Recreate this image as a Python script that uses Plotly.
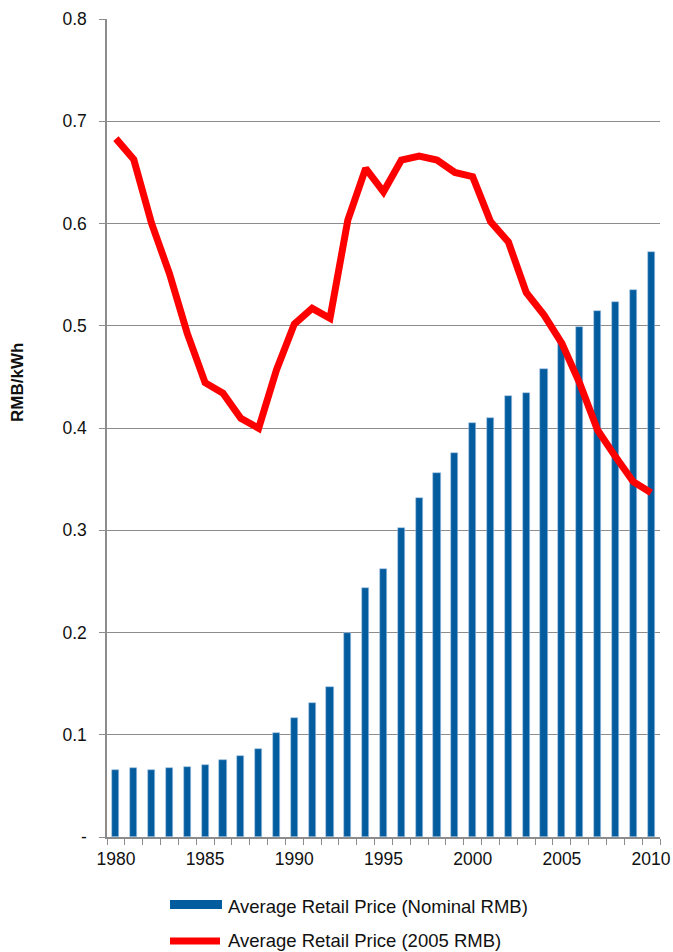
import plotly.graph_objects as go

years = list(range(1980, 2011))
nominal_rmb = [0.0655, 0.067, 0.0658, 0.067, 0.0688, 0.0707, 0.0753, 0.0789, 0.0858, 0.102,
               0.1164, 0.131, 0.1467, 0.1995, 0.2438, 0.262, 0.302, 0.3315, 0.356, 0.376,
               0.405, 0.41, 0.431, 0.4345, 0.458, 0.484, 0.499, 0.514, 0.5235, 0.5346, 0.5718]
real_2005_rmb = [0.683, 0.6626, 0.600, 0.551, 0.4926, 0.4443, 0.434, 0.4095, 0.3997, 0.4567,
                 0.5017, 0.517, 0.5073, 0.6034, 0.654, 0.631, 0.662, 0.666, 0.662, 0.650,
                 0.6458, 0.6018, 0.582, 0.5325, 0.5105, 0.4828, 0.4437, 0.398, 0.372, 0.3475, 0.3367]
y_tickvals = [0, 0.1, 0.2, 0.3, 0.4, 0.5, 0.6, 0.7, 0.8]
y_ticktext = ["-", "0.1", "0.2", "0.3", "0.4", "0.5", "0.6", "0.7", "0.8"]
x_tickvals = [1980, 1985, 1990, 1995, 2000, 2005, 2010]
series_names = ["Average Retail Price (Nominal RMB)", "Average Retail Price (2005 RMB)"]

BLUE = "#035C9D"
RED = "#FF0000"
GRID = "#8c8c8c"
FONT = "Liberation Sans, Arial, sans-serif"

fig = go.Figure()
fig.add_trace(go.Bar(x=years, y=nominal_rmb, width=0.4, name=series_names[0],
                     marker=dict(color=BLUE, line=dict(color="#a9c8e6", width=0.6)),
                     showlegend=False))
fig.add_trace(go.Scatter(x=years, y=real_2005_rmb, mode="lines", name=series_names[1],
                         line=dict(color=RED, width=7), showlegend=False))

W, H = 673, 952
L, R, T, B = 107, 13, 19, 115
pw, ph = W - L - R, H - T - B

def px(xp):
    return (xp - L) / pw

def py(yp):
    return (H - B - yp) / ph

# legend drawn manually
fig.add_shape(type="rect", xref="paper", yref="paper",
              x0=px(170), x1=px(222), y0=py(909), y1=py(900),
              fillcolor=BLUE, line=dict(width=0))
fig.add_shape(type="line", xref="paper", yref="paper",
              x0=px(170), x1=px(220), y0=py(941), y1=py(941),
              line=dict(color=RED, width=7))
fig.add_annotation(xref="paper", yref="paper", x=px(226), y=py(906), xanchor="left",
                   yanchor="middle", text=series_names[0], showarrow=False,
                   font=dict(size=18.5, color="#111", family=FONT))
fig.add_annotation(xref="paper", yref="paper", x=px(226), y=py(941), xanchor="left",
                   yanchor="middle", text=series_names[1], showarrow=False,
                   font=dict(size=18.5, color="#111", family=FONT))
# y-axis title
fig.add_annotation(xref="paper", yref="paper", x=px(17), y=py(383), xanchor="center",
                   yanchor="middle", text="<b>RMB/kWh</b>", textangle=-90, showarrow=False,
                   font=dict(size=17, color="#111", family=FONT))

fig.update_layout(
    width=W, height=H,
    margin=dict(l=L, r=R, t=T, b=B, autoexpand=False),
    plot_bgcolor="white", paper_bgcolor="white",
    font=dict(family=FONT, size=17.5, color="#111"),
    bargap=0,
)
fig.update_xaxes(range=[1979.5, 2010.5], tickmode="array", tickvals=x_tickvals,
                 ticks="", showgrid=False, showline=True, linecolor=GRID, linewidth=1.5,
                 tickfont=dict(size=17.5), zeroline=False, automargin=False,
                 ticklabelstandoff=5,
                 minor=dict(tickmode="linear", tick0=1979.5, dtick=1, ticks="outside",
                            ticklen=6, tickcolor=GRID, tickwidth=1.2, showgrid=False))
fig.update_yaxes(range=[0, 0.8], tickmode="array", tickvals=y_tickvals, ticktext=y_ticktext,
                 ticks="outside", ticklen=6, tickcolor=GRID, tickwidth=1.2,
                 showgrid=True, gridcolor=GRID, gridwidth=1.3, automargin=False,
                 showline=True, linecolor=GRID, linewidth=1.5, zeroline=False,
                 tickfont=dict(size=17.5), ticklabelstandoff=9)

fig.write_html("out.html",
               config={"displayModeBar": False},
               post_script="document.body.style.margin='0';"
                           "document.body.style.padding='0';"
                           "document.documentElement.style.overflow='hidden';"
                           "document.body.style.overflow='hidden';")
